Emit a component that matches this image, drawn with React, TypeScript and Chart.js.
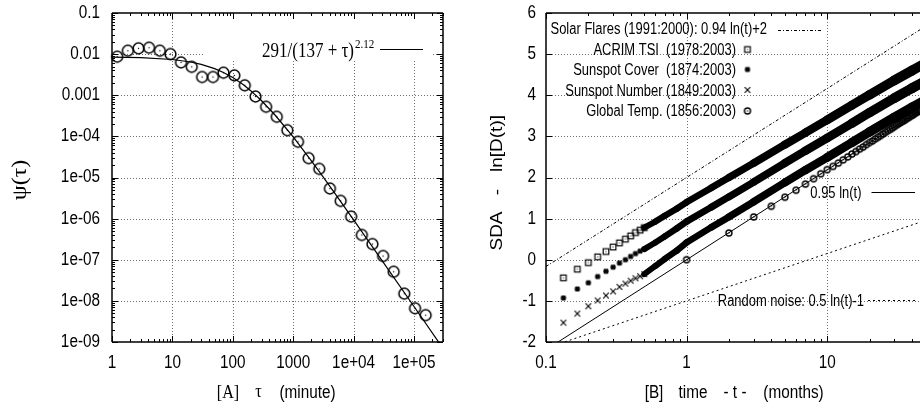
import React, { useEffect, useRef } from 'react';
import { Chart, registerables } from 'chart.js';

Chart.register(...registerables);

// ---------------- Panel [A] data ----------------
const A_TAU = [1.22, 1.83, 2.75, 4.1, 6.2, 9.3, 13.9, 20.9, 31, 47, 70, 106, 158, 238, 356, 535, 800, 1200, 1800, 2700, 4050, 6100, 9100, 13700, 20500, 30800, 46000, 69000, 104000, 156000];
const A_PSI = [0.00865, 0.0121, 0.0138, 0.0143, 0.0121, 0.0100, 0.0063, 0.0049, 0.00277, 0.00277, 0.00353, 0.00304, 0.00174, 0.00093, 0.000525, 0.0003, 0.000141, 7.4e-5, 2.95e-5, 1.62e-5, 5.4e-6, 2.7e-6, 1.12e-6, 4.0e-7, 2.4e-7, 1.23e-7, 5.1e-8, 1.5e-8, 6.6e-9, 4.5e-9];
const A_FIT_TAU = [1, 3, 10, 20, 30, 50, 70, 100, 150, 200, 300, 500, 1000, 2000, 3000, 5000, 10000, 30000, 100000, 300000];
const A_FIT_PSI = [0.00846, 0.0082, 0.0074, 0.00644, 0.00565, 0.00444, 0.00358, 0.00269, 0.00179, 0.001275, 0.000734, 0.000331, 9.67e-5, 2.54e-5, 1.125e-5, 3.96e-6, 9.36e-7, 9.29e-8, 7.29e-9, 7.1e-10];
const A_X_TICKS = [1, 10, 100, 1000, 1e4, 1e5];
const A_X_LABELS = ['1', '10', '100', '1000', '1e+04', '1e+05'];
const A_Y_TICKS = [0.1, 0.01, 0.001, 1e-4, 1e-5, 1e-6, 1e-7, 1e-8, 1e-9];
const A_Y_LABELS = ['0.1', '0.01', '0.001', '1e-04', '1e-05', '1e-06', '1e-07', '1e-08', '1e-09'];

// ---------------- Panel [B] data ----------------
const B_T_SPARSE = [0.133, 0.167, 0.2, 0.233, 0.267, 0.3, 0.333, 0.367, 0.4, 0.433, 0.467, 0.5];
const B_ACRIM_SPARSE = [-0.44, -0.23, -0.07, 0.07, 0.2, 0.31, 0.41, 0.5, 0.58, 0.66, 0.72, 0.78];
const B_COVER_SPARSE = [-0.93, -0.71, -0.56, -0.41, -0.28, -0.18, -0.08, 0.0, 0.08, 0.15, 0.21, 0.26];
const B_NUMBER_SPARSE = [-1.53, -1.31, -1.13, -0.99, -0.87, -0.77, -0.66, -0.58, -0.51, -0.45, -0.40, -0.35];
const B_T_BAND = [0.5, 0.6, 0.7, 0.85, 1, 1.5, 2, 3, 5, 7, 10, 15, 20, 30, 40, 50];
const B_ACRIM_BAND = [0.78, 0.93, 1.07, 1.24, 1.40, 1.75, 2.0, 2.35, 2.80, 3.09, 3.40, 3.76, 4.01, 4.36, 4.60, 4.78];
const B_COVER_BAND = [0.26, 0.42, 0.57, 0.76, 0.93, 1.28, 1.53, 1.89, 2.35, 2.65, 2.96, 3.32, 3.58, 3.93, 4.17, 4.35];
const B_NUMBER_BAND = [-0.35, -0.15, 0.02, 0.22, 0.42, 0.79, 1.04, 1.41, 1.88, 2.18, 2.49, 2.85, 3.11, 3.46, 3.70, 3.88];
const B_TEMP_T = [1, 2, 3, 4, 5, 6, 7, 8, 9, 10, 11, 12, 13, 14, 15, 16, 17, 18, 19, 20, 21, 22, 23, 24, 25, 26, 27, 28, 29, 30, 31, 32, 33, 34, 35, 36, 37, 38, 39, 40, 41, 42, 43, 44, 45, 46];
const B_TEMP = [0.0, 0.65, 1.04, 1.30, 1.52, 1.69, 1.84, 1.97, 2.09, 2.19, 2.27, 2.35, 2.43, 2.50, 2.57, 2.63, 2.69, 2.74, 2.80, 2.85, 2.89, 2.94, 2.98, 3.02, 3.06, 3.10, 3.14, 3.17, 3.20, 3.24, 3.27, 3.30, 3.33, 3.36, 3.38, 3.41, 3.44, 3.46, 3.49, 3.51, 3.53, 3.56, 3.58, 3.60, 3.62, 3.64];
const B_LINE_T = [0.1, 50];
const B_FLARES = [-0.164, 5.677];
const B_POWER = [-2.187, 3.716];
const B_NOISE = [-2.151, 0.956];
const B_X_TICKS = [0.1, 1, 10];
const B_X_LABELS = ['0.1', '1', '10'];
const B_Y_TICKS = [-2, -1, 0, 1, 2, 3, 4, 5, 6];
const B_Y_LABELS = ['-2', '-1', '0', '1', '2', '3', '4', '5', '6'];

const SANS = '"Liberation Sans", Arial, Helvetica, sans-serif';
const SERIF = '"Liberation Serif", "Times New Roman", Times, serif';
const GRID = '#6e6e6e';
const SX = 0.85;

function pts(xs: number[], ys: number[]) {
  return xs.map((x, i) => ({ x, y: ys[i] }));
}

function logMinors(min: number, max: number) {
  const out: number[] = [];
  for (let d = Math.floor(Math.log10(min)); d <= Math.ceil(Math.log10(max)); d++) {
    for (let m = 2; m <= 9; m++) {
      const v = m * Math.pow(10, d);
      if (v > min && v < max) out.push(v);
    }
  }
  return out;
}

function txt(ctx: any, text: string, x: number, y: number, font: string, align: CanvasTextAlign = 'center', rot = 0, sx = SX, sy = 1) {
  ctx.save();
  ctx.translate(x, y);
  if (rot) ctx.rotate(rot);
  ctx.scale(sx, sy);
  ctx.font = font;
  ctx.fillStyle = '#000';
  ctx.textAlign = align;
  ctx.textBaseline = 'middle';
  ctx.fillText(text, 0, 0);
  ctx.restore();
}

function mk(size: number, draw: (g: CanvasRenderingContext2D, c: number) => void) {
  const cv = document.createElement('canvas');
  cv.width = size;
  cv.height = size;
  const g = cv.getContext('2d') as CanvasRenderingContext2D;
  g.strokeStyle = '#000';
  g.fillStyle = '#000';
  draw(g, size / 2);
  return cv;
}

function circleDot(r: number, lw: number) {
  const s = Math.ceil(2 * r + lw + 2);
  return mk(s, (g, c) => {
    g.lineWidth = lw;
    g.beginPath();
    g.arc(c, c, r, 0, Math.PI * 2);
    g.stroke();
    g.fillRect(c - 0.6, c - 0.6, 1.2, 1.2);
  });
}

function bandWidth(ctx: any) {
  const t = ctx.p0.parsed.x;
  return Math.min(10, 6 + 2.2 * Math.log10(t / 0.5));
}

function makeFrame(cfg: any) {
  return {
    id: 'frame',
    beforeDatasetsDraw(chart: any) {
      const ctx = chart.ctx;
      const a = chart.chartArea;
      const xs = chart.scales.x;
      const ys = chart.scales.y;
      ctx.save();
      ctx.strokeStyle = GRID;
      ctx.lineWidth = 1;
      ctx.setLineDash([1, 2]);
      ctx.beginPath();
      for (const v of cfg.xTicks) {
        const p = Math.round(xs.getPixelForValue(v)) + 0.5;
        if (p < a.left + 2 || p > a.right - 2) continue;
        ctx.moveTo(p, a.top);
        ctx.lineTo(p, a.bottom);
      }
      for (const v of cfg.yTicks) {
        const p = Math.round(ys.getPixelForValue(v)) + 0.5;
        if (p < a.top + 2 || p > a.bottom - 2) continue;
        ctx.moveTo(a.left, p);
        ctx.lineTo(a.right, p);
      }
      ctx.stroke();
      ctx.setLineDash([]);
      if (cfg.box) {
        ctx.fillStyle = '#fff';
        ctx.fillRect(cfg.box[0], cfg.box[1], cfg.box[2], cfg.box[3]);
      }
      ctx.restore();
    },
    afterDatasetsDraw(chart: any) {
      const ctx = chart.ctx;
      const a = chart.chartArea;
      const xs = chart.scales.x;
      const ys = chart.scales.y;
      ctx.save();
      ctx.strokeStyle = '#000';
      ctx.lineWidth = 1;
      ctx.beginPath();
      const xt = (vals: number[], len: number) => {
        for (const v of vals) {
          const p = Math.round(xs.getPixelForValue(v)) + 0.5;
          if (p < a.left - 0.5 || p > a.right + 0.5) continue;
          ctx.moveTo(p, a.bottom);
          ctx.lineTo(p, a.bottom - len);
          ctx.moveTo(p, a.top);
          ctx.lineTo(p, a.top + len);
        }
      };
      const yt = (vals: number[], len: number) => {
        for (const v of vals) {
          const p = Math.round(ys.getPixelForValue(v)) + 0.5;
          if (p < a.top - 0.5 || p > a.bottom + 0.5) continue;
          ctx.moveTo(a.left, p);
          ctx.lineTo(a.left + len, p);
          if (cfg.rightBorder) {
            ctx.moveTo(a.right, p);
            ctx.lineTo(a.right - len, p);
          }
        }
      };
      xt(cfg.xTicks, 6);
      if (cfg.xLog) xt(logMinors(xs.min, xs.max), 3);
      yt(cfg.yTicks, 6);
      if (cfg.yLog) yt(logMinors(ys.min, ys.max), 3);
      ctx.stroke();
      ctx.lineWidth = 1.5;
      ctx.beginPath();
      ctx.moveTo(a.left, a.top);
      ctx.lineTo(a.right, a.top);
      ctx.moveTo(a.left, a.bottom);
      ctx.lineTo(a.right, a.bottom);
      ctx.moveTo(a.left, a.top);
      ctx.lineTo(a.left, a.bottom);
      if (cfg.rightBorder) {
        ctx.moveTo(a.right, a.top);
        ctx.lineTo(a.right, a.bottom);
      }
      ctx.stroke();
      const tf = '18px ' + SANS;
      cfg.xTicks.forEach((v: number, i: number) => {
        txt(ctx, cfg.xLabels[i], xs.getPixelForValue(v), 363, tf, 'center');
      });
      cfg.yTicks.forEach((v: number, i: number) => {
        txt(ctx, cfg.yLabels[i], cfg.yLabelRight, ys.getPixelForValue(v), tf, 'right');
      });
      ctx.restore();
      ctx.save();
      cfg.extra(ctx, chart);
      ctx.restore();
    },
  };
}

function baseOptions(xCfg: any, yCfg: any, yWidth: number, padding: any) {
  return {
    responsive: false,
    maintainAspectRatio: false,
    animation: false,
    devicePixelRatio: 1,
    events: [],
    layout: { padding, autoPadding: false },
    plugins: { legend: { display: false }, tooltip: { enabled: false }, title: { display: false } },
    scales: {
      x: {
        ...xCfg,
        ticks: { display: false },
        grid: { display: false, drawTicks: false },
        border: { display: false },
        title: { display: false },
        afterFit: (s: any) => { s.height = 62; },
      },
      y: {
        ...yCfg,
        ticks: { display: false },
        grid: { display: false, drawTicks: false },
        border: { display: false },
        title: { display: false },
        afterFit: (s: any) => { s.width = yWidth; },
      },
    },
  };
}

export default function App() {
  const leftRef = useRef<HTMLCanvasElement>(null);
  const rightRef = useRef<HTMLCanvasElement>(null);

  useEffect(() => {
    const bigCircle = circleDot(5.4, 1.5);
    const smallCircle = circleDot(3, 1.4);
    const square = mk(10, (g, c) => {
      g.lineWidth = 1.2;
      g.strokeRect(c - 2.8, c - 2.8, 5.6, 5.6);
      g.fillRect(c - 0.5, c - 0.5, 1, 1);
    });
    const star = mk(10, (g, c) => {
      g.lineWidth = 1.3;
      const r = 2.8;
      const d = r * 0.78;
      g.beginPath();
      g.moveTo(c - r, c); g.lineTo(c + r, c);
      g.moveTo(c, c - r); g.lineTo(c, c + r);
      g.moveTo(c - d, c - d); g.lineTo(c + d, c + d);
      g.moveTo(c - d, c + d); g.lineTo(c + d, c - d);
      g.stroke();
    });
    const cross = mk(10, (g, c) => {
      g.lineWidth = 1.1;
      const r = 2.8;
      g.beginPath();
      g.moveTo(c - r, c - r); g.lineTo(c + r, c + r);
      g.moveTo(c - r, c + r); g.lineTo(c + r, c - r);
      g.stroke();
    });
    const img = (ctx: any, im: HTMLCanvasElement, x: number, y: number) => {
      ctx.drawImage(im, x - im.width / 2, y - im.height / 2);
    };

    const charts: Chart[] = [];

    const leftFrame = makeFrame({
      xTicks: A_X_TICKS, xLabels: A_X_LABELS, yTicks: A_Y_TICKS, yLabels: A_Y_LABELS,
      xLog: true, yLog: true, rightBorder: true, yLabelRight: 100,
      box: [203, 14, 230, 45],
      extra: (ctx: any) => {
        const mainFont = '20px ' + SERIF;
        txt(ctx, '291/(137 + \u03c4)', 262, 52, mainFont, 'left');
        ctx.font = mainFont;
        const w = ctx.measureText('291/(137 + \u03c4)').width * SX;
        txt(ctx, '2.12', 262 + w + 1, 45, '13px ' + SERIF, 'left');
        ctx.strokeStyle = '#000';
        ctx.lineWidth = 1.2;
        ctx.beginPath();
        ctx.moveTo(380, 49.5);
        ctx.lineTo(423, 49.5);
        ctx.stroke();
        txt(ctx, '[A]', 228, 393, '19px ' + SERIF);
        txt(ctx, '\u03c4', 258.5, 392, '19px ' + SERIF);
        txt(ctx, '(minute)', 307.5, 393, '18px ' + SANS);
        txt(ctx, '\u03c8(\u03c4)', 21, 180, '24px ' + SERIF, 'center', -Math.PI / 2, 1, SX);
      },
    });

    if (leftRef.current) {
      charts.push(new Chart(leftRef.current, {
        type: 'scatter',
        data: {
          datasets: [
            {
              data: pts(A_FIT_TAU, A_FIT_PSI), showLine: true, borderColor: '#000', borderWidth: 1.2,
              pointRadius: 0, clip: 0,
            } as any,
            {
              data: pts(A_TAU, A_PSI), showLine: false, pointStyle: bigCircle, pointRadius: 5, clip: false,
            } as any,
          ],
        },
        options: baseOptions(
          { type: 'logarithmic', min: 1, max: 3.02e5 },
          { type: 'logarithmic', min: 1e-9, max: 0.1 },
          112,
          { top: 13, right: 17, left: 0, bottom: 0 },
        ) as any,
        plugins: [leftFrame as any],
      }));
    }

    const rightFrame = makeFrame({
      xTicks: B_X_TICKS, xLabels: B_X_LABELS, yTicks: B_Y_TICKS, yLabels: B_Y_LABELS,
      xLog: true, yLog: false, rightBorder: false, yLabelRight: 76,
      extra: (ctx: any) => {
        const lf = '16px ' + SANS;
        const lsx = 0.81;
        txt(ctx, 'Solar Flares (1991:2000): 0.94 ln(t)+2', 307, 30, lf, 'right', 0, lsx);
        txt(ctx, 'ACRIM TSI  (1978:2003)', 276, 51, lf, 'right', 0, lsx);
        txt(ctx, 'Sunspot Cover  (1874:2003)', 276, 71, lf, 'right', 0, lsx);
        txt(ctx, 'Sunspot Number (1849:2003)', 276, 91.5, lf, 'right', 0, lsx);
        txt(ctx, 'Global Temp. (1856:2003)', 276, 112, lf, 'right', 0, lsx);
        txt(ctx, '0.95 ln(t)', 401.5, 194, lf, 'right', 0, lsx);
        txt(ctx, 'Random noise: 0.5 ln(t)-1', 404, 301.5, lf, 'right', 0, lsx);
        img(ctx, square, 287.5, 49.5);
        img(ctx, star, 287.5, 69.5);
        img(ctx, cross, 287.5, 90);
        img(ctx, smallCircle, 287.5, 111);
        ctx.strokeStyle = '#000';
        ctx.lineWidth = 1;
        ctx.setLineDash([3, 2, 1, 2]);
        ctx.beginPath(); ctx.moveTo(318, 30.5); ctx.lineTo(362, 30.5); ctx.stroke();
        ctx.setLineDash([]);
        ctx.beginPath(); ctx.moveTo(411.5, 192.5); ctx.lineTo(455, 192.5); ctx.stroke();
        ctx.setLineDash([2, 3]);
        ctx.beginPath(); ctx.moveTo(408, 300.5); ctx.lineTo(455, 300.5); ctx.stroke();
        ctx.setLineDash([]);
        const af = '18px ' + SANS;
        txt(ctx, '[B]', 194, 393, af);
        txt(ctx, 'time', 233, 393, af);
        txt(ctx, '- t -', 275, 393, af);
        txt(ctx, '(months)', 333.5, 393, af);
        const yf = '19px ' + SANS;
        txt(ctx, 'SDA', 38, 231, yf, 'center', -Math.PI / 2, 1, SX);
        txt(ctx, '-', 38, 192, yf, 'center', -Math.PI / 2, 1, SX);
        txt(ctx, 'ln[D(t)]', 38, 143.5, yf, 'center', -Math.PI / 2, 1, SX);
      },
    });

    const band = (ys: number[]) => ({
      data: pts(B_T_BAND, ys), showLine: true, borderColor: '#000', borderWidth: 8,
      borderCapStyle: 'round', borderJoinStyle: 'round', pointRadius: 0, clip: 0,
      segment: { borderWidth: bandWidth },
    });

    if (rightRef.current) {
      charts.push(new Chart(rightRef.current, {
        type: 'scatter',
        data: {
          datasets: [
            { data: pts(B_LINE_T, B_FLARES), showLine: true, borderColor: '#000', borderWidth: 1, borderDash: [3, 2, 1, 2], pointRadius: 0, clip: 0 } as any,
            { data: pts(B_LINE_T, B_POWER), showLine: true, borderColor: '#000', borderWidth: 1, pointRadius: 0, clip: 0 } as any,
            { data: pts(B_LINE_T, B_NOISE), showLine: true, borderColor: '#000', borderWidth: 1, borderDash: [2, 3], pointRadius: 0, clip: 0 } as any,
            band(B_ACRIM_BAND) as any,
            band(B_COVER_BAND) as any,
            band(B_NUMBER_BAND) as any,
            { data: pts(B_T_SPARSE, B_ACRIM_SPARSE), showLine: false, pointStyle: square, pointRadius: 4, clip: false } as any,
            { data: pts(B_T_SPARSE, B_COVER_SPARSE), showLine: false, pointStyle: star, pointRadius: 4, clip: false } as any,
            { data: pts(B_T_SPARSE, B_NUMBER_SPARSE), showLine: false, pointStyle: cross, pointRadius: 4, clip: false } as any,
            { data: pts(B_TEMP_T, B_TEMP), showLine: false, pointStyle: smallCircle, pointRadius: 4, clip: 0 } as any,
          ],
        },
        options: baseOptions(
          { type: 'logarithmic', min: 0.1, max: 45.7 },
          { type: 'linear', min: -2, max: 6 },
          86,
          { top: 13, right: 0, left: 0, bottom: 0 },
        ) as any,
        plugins: [rightFrame as any],
      }));
    }

    return () => { charts.forEach((c) => c.destroy()); };
  }, []);

  return (
    <div style={{ position: 'fixed', left: 0, top: 0, width: 920, height: 404, background: '#fff' }}>
      <canvas ref={leftRef} width={460} height={404} style={{ position: 'absolute', left: 0, top: 0, width: 460, height: 404 }} />
      <canvas ref={rightRef} width={460} height={404} style={{ position: 'absolute', left: 460, top: 0, width: 460, height: 404 }} />
    </div>
  );
}
